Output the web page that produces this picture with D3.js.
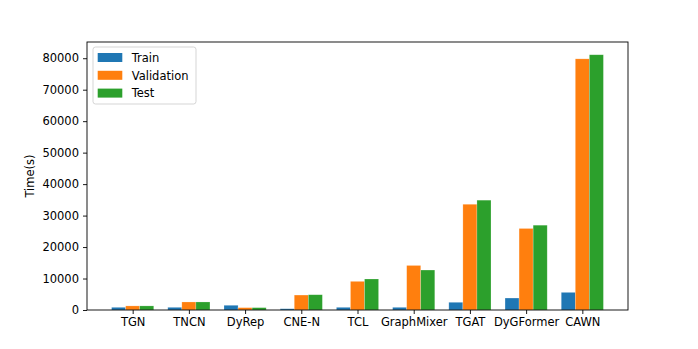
<!DOCTYPE html>
<html>
<head>
<meta charset="utf-8">
<script src="https://cdn.jsdelivr.net/npm/d3@7"></script>
<style>
  body { margin: 0; background: #fff; }
  svg { display: block; font-family: "DejaVu Sans", sans-serif; }
</style>
</head>
<body>
<div id="chart"></div>
<script>
// datos
const models = ['TGN', 'TNCN', 'DyRep', 'CNE-N', 'TCL', 'GraphMixer', 'TGAT', 'DyGFormer', 'CAWN'];
const trainTime = [850, 850, 1500, 400, 850, 850, 2450, 3800, 5600];
const validTime = [1300, 2550, 750, 4750, 9100, 14150, 33600, 25900, 79800];
const testTime = [1300, 2550, 750, 4850, 9850, 12700, 34900, 26950, 81100];
const seriesNames = ['Train', 'Validation', 'Test'];
const yTicks = [0, 10000, 20000, 30000, 40000, 50000, 60000, 70000, 80000];

const COLORS = ['#1f77b4', '#ff7f0e', '#2ca02c'];
const series = [trainTime, validTime, testTime];

const W = 698, H = 349;
const margin = {top: 42, right: 70, bottom: 39, left: 87};
const width = W - margin.left - margin.right,
      height = H - margin.top - margin.bottom;

const svg = d3.select('#chart').append('svg')
    .attr('width', W).attr('height', H);
const g = svg.append('g')
    .attr('transform', 'translate(' + margin.left + ',' + margin.top + ')');

// escala x continua como matplotlib (indices de categoria)
const barW = 0.25;
const lo = -1.5 * barW, hi = models.length - 1 + 1.5 * barW;
const pad = (hi - lo) * 0.05;
const x = d3.scaleLinear().domain([lo - pad, hi + pad]).range([0, width]);

const maxV = d3.max(series.flat());
const y = d3.scaleLinear().domain([0, maxV * 1.05]).range([height, 0]);

// barras
series.forEach(function(vals, s) {
    g.append('g').selectAll('rect')
        .data(vals)
        .enter().append('rect')
        .attr('x', function(d, i) { return x(i + (s - 1) * barW - barW / 2); })
        .attr('y', function(d) { return y(d); })
        .attr('width', x(barW) - x(0))
        .attr('height', function(d) { return y(0) - y(d); })
        .attr('fill', COLORS[s])
        .attr('stroke', '#fff')
        .attr('stroke-opacity', 0.35)
        .attr('stroke-width', 0.6);
});

// ejes
const xAxis = g.append('g')
    .attr('transform', 'translate(0,' + height + ')')
    .call(d3.axisBottom(x).tickValues(d3.range(models.length))
        .tickFormat(function(i) { return models[i]; }).tickSizeOuter(0).tickSize(4).tickPadding(4));
const yAxis = g.append('g')
    .call(d3.axisLeft(y).tickValues(yTicks).tickFormat(d3.format('d')).tickSizeOuter(0).tickSize(4).tickPadding(4));

[xAxis, yAxis].forEach(function(a) {
    a.select('.domain').remove();
    a.selectAll('text').attr('font-size', 11.5).attr('fill', '#000')
        .attr('font-family', '"DejaVu Sans", sans-serif');
    a.selectAll('line').attr('stroke', '#000').attr('stroke-width', 0.9);
});

// marco
g.append('rect')
    .attr('width', width).attr('height', height)
    .attr('fill', 'none').attr('stroke', '#000').attr('stroke-width', 0.9);

// titulo eje y
svg.append('text')
    .attr('transform', 'translate(34,' + (margin.top + height / 2) + ') rotate(-90)')
    .attr('text-anchor', 'middle')
    .attr('font-size', 11.5)
    .text('Time(s)');

// leyenda
const legend = g.append('g').attr('transform', 'translate(6,5)');
legend.append('rect')
    .attr('width', 103).attr('height', 57).attr('rx', 2.5)
    .attr('fill', '#fff').attr('fill-opacity', 0.8)
    .attr('stroke', '#d0d0d0').attr('stroke-width', 0.9);
seriesNames.forEach(function(name, i) {
    const row = legend.append('g').attr('transform', 'translate(0,' + (10.5 + i * 17.8) + ')');
    row.append('rect')
        .attr('x', 4.7).attr('y', -4.5).attr('width', 24.6).attr('height', 9)
        .attr('fill', COLORS[i]);
    row.append('text')
        .attr('x', 38.7).attr('y', 4.2)
        .attr('font-size', 11.5)
        .text(name);
});
</script>
</body>
</html>
